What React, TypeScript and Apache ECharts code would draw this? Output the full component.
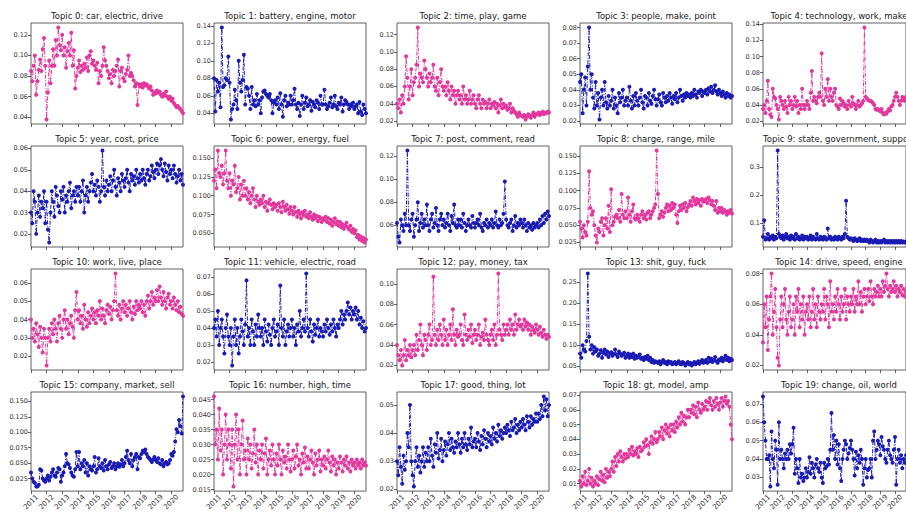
import React, { useEffect, useRef } from "react";
import * as echarts from "echarts";

const topics = [
  "Topic 0: car, electric, drive",
  "Topic 1: battery, engine, motor",
  "Topic 2: time, play, game",
  "Topic 3: people, make, point",
  "Topic 4: technology, work, make",
  "Topic 5: year, cost, price",
  "Topic 6: power, energy, fuel",
  "Topic 7: post, comment, read",
  "Topic 8: charge, range, mile",
  "Topic 9: state, government, support",
  "Topic 10: work, live, place",
  "Topic 11: vehicle, electric, road",
  "Topic 12: pay, money, tax",
  "Topic 13: shit, guy, fuck",
  "Topic 14: drive, speed, engine",
  "Topic 15: company, market, sell",
  "Topic 16: number, high, time",
  "Topic 17: good, thing, lot",
  "Topic 18: gt, model, amp",
  "Topic 19: change, oil, world",
];

const years = ["2011", "2012", "2013", "2014", "2015", "2016", "2017", "2018", "2019", "2020"];
const monthsInLastYear = 10;

const t0 = [
  0.085, 0.075, 0.09, 0.1, 0.062, 0.075, 0.086, 0.096, 0.085, 0.106, 0.117, 0.09,
  0.038, 0.064, 0.095, 0.073, 0.09, 0.106, 0.09, 0.115, 0.1, 0.127, 0.11, 0.105,
  0.12, 0.1, 0.108, 0.088, 0.104, 0.112, 0.1, 0.122, 0.09, 0.105, 0.068, 0.08,
  0.088, 0.095, 0.084, 0.09, 0.086, 0.092, 0.088, 0.098, 0.085, 0.1, 0.104, 0.092,
  0.095, 0.09, 0.086, 0.093, 0.073, 0.085, 0.08, 0.09, 0.108, 0.095, 0.09, 0.085,
  0.078, 0.082, 0.073, 0.086, 0.08, 0.085, 0.09, 0.096, 0.07, 0.085, 0.088, 0.078,
  0.075, 0.082, 0.086, 0.1, 0.08, 0.083, 0.08, 0.076, 0.07, 0.073, 0.052, 0.072,
  0.07, 0.072, 0.069, 0.073, 0.071, 0.072, 0.07, 0.068, 0.07, 0.066, 0.062, 0.064,
  0.063, 0.066, 0.064, 0.065, 0.062, 0.06, 0.063, 0.061, 0.065, 0.06, 0.058, 0.06,
  0.056, 0.058, 0.054, 0.052, 0.05, 0.051, 0.049, 0.048, 0.046, 0.044,
];
const t1 = [
  0.08, 0.042, 0.078, 0.065, 0.075, 0.047, 0.138, 0.07, 0.072, 0.08, 0.078, 0.105,
  0.075, 0.033, 0.045, 0.05, 0.067, 0.055, 0.045, 0.1, 0.075, 0.065, 0.078, 0.107,
  0.05, 0.07, 0.068, 0.06, 0.045, 0.07, 0.05, 0.055, 0.048, 0.062, 0.05, 0.055,
  0.04, 0.058, 0.065, 0.066, 0.062, 0.06, 0.058, 0.062, 0.055, 0.04, 0.052, 0.055,
  0.05, 0.058, 0.045, 0.063, 0.05, 0.036, 0.055, 0.06, 0.048, 0.052, 0.05, 0.06,
  0.05, 0.055, 0.068, 0.05, 0.045, 0.052, 0.037, 0.05, 0.06, 0.045, 0.052, 0.058,
  0.048, 0.05, 0.055, 0.043, 0.053, 0.05, 0.047, 0.055, 0.052, 0.045, 0.06, 0.05,
  0.05, 0.067, 0.05, 0.045, 0.048, 0.052, 0.058, 0.047, 0.05, 0.06, 0.048, 0.045,
  0.052, 0.05, 0.058, 0.042, 0.05, 0.055, 0.053, 0.05, 0.045, 0.05, 0.048, 0.052,
  0.045, 0.048, 0.05, 0.04, 0.053, 0.042, 0.038, 0.05, 0.045, 0.04,
];
const t2 = [
  0.04, 0.035, 0.045, 0.03, 0.05, 0.04, 0.06, 0.095, 0.07, 0.045, 0.06, 0.08,
  0.05, 0.065, 0.07, 0.085, 0.128, 0.06, 0.075, 0.07, 0.065, 0.09, 0.08, 0.07,
  0.06, 0.075, 0.065, 0.07, 0.085, 0.06, 0.055, 0.07, 0.05, 0.065, 0.08, 0.06,
  0.055, 0.06, 0.05, 0.065, 0.055, 0.045, 0.06, 0.05, 0.055, 0.04, 0.05, 0.055,
  0.045, 0.05, 0.04, 0.06, 0.045, 0.05, 0.04, 0.045, 0.055, 0.04, 0.045, 0.05,
  0.04, 0.035, 0.045, 0.05, 0.04, 0.035, 0.045, 0.04, 0.042, 0.035, 0.04, 0.045,
  0.035, 0.04, 0.038, 0.042, 0.035, 0.04, 0.03, 0.038, 0.045, 0.035, 0.04, 0.036,
  0.038, 0.033, 0.035, 0.04, 0.03, 0.035, 0.032, 0.03, 0.028, 0.025, 0.03, 0.027,
  0.026, 0.025, 0.027, 0.022, 0.025, 0.028, 0.026, 0.024, 0.027, 0.03, 0.025, 0.028,
  0.028, 0.03, 0.027, 0.029, 0.031, 0.028, 0.03, 0.029, 0.031, 0.03,
];
const t3 = [
  0.045, 0.05, 0.025, 0.04, 0.048, 0.03, 0.055, 0.08, 0.04, 0.05, 0.035, 0.028,
  0.045, 0.03, 0.038, 0.021, 0.035, 0.04, 0.03, 0.045, 0.032, 0.028, 0.036, 0.03,
  0.033, 0.04, 0.028, 0.035, 0.03, 0.025, 0.038, 0.032, 0.035, 0.04, 0.03, 0.033,
  0.035, 0.03, 0.042, 0.033, 0.028, 0.036, 0.03, 0.038, 0.033, 0.03, 0.035, 0.04,
  0.032, 0.028, 0.036, 0.035, 0.03, 0.038, 0.033, 0.031, 0.036, 0.04, 0.034, 0.03,
  0.034, 0.037, 0.032, 0.03, 0.038, 0.035, 0.032, 0.036, 0.033, 0.038, 0.035, 0.031,
  0.036, 0.034, 0.038, 0.032, 0.035, 0.04, 0.036, 0.033, 0.037, 0.035, 0.038, 0.036,
  0.037, 0.035, 0.038, 0.036, 0.04, 0.037, 0.035, 0.039, 0.038, 0.04, 0.036, 0.039,
  0.038, 0.04, 0.037, 0.041, 0.039, 0.042, 0.038, 0.04, 0.043, 0.039, 0.037, 0.04,
  0.038, 0.036, 0.039, 0.037, 0.035, 0.038, 0.036, 0.037, 0.035, 0.036,
];
const t4 = [
  0.035, 0.04, 0.03, 0.045, 0.07, 0.035, 0.028, 0.025, 0.06, 0.05, 0.048, 0.04,
  0.035, 0.022, 0.05, 0.045, 0.04, 0.035, 0.045, 0.038, 0.03, 0.05, 0.04, 0.045,
  0.035, 0.04, 0.05, 0.038, 0.045, 0.03, 0.04, 0.035, 0.06, 0.04, 0.035, 0.04,
  0.045, 0.04, 0.035, 0.055, 0.082, 0.045, 0.05, 0.045, 0.042, 0.05, 0.055, 0.05,
  0.104, 0.045, 0.04, 0.06, 0.05, 0.072, 0.045, 0.06, 0.05, 0.045, 0.055, 0.06,
  0.04, 0.038, 0.035, 0.048, 0.04, 0.045, 0.042, 0.038, 0.04, 0.035, 0.045, 0.04,
  0.038, 0.05, 0.042, 0.04, 0.035, 0.04, 0.045, 0.038, 0.04, 0.042, 0.045, 0.136,
  0.05, 0.048, 0.046, 0.045, 0.045, 0.044, 0.042, 0.04, 0.035, 0.034, 0.035, 0.033,
  0.032, 0.035, 0.03, 0.028, 0.03, 0.029, 0.032, 0.035, 0.033, 0.038, 0.04, 0.045,
  0.05, 0.055, 0.05, 0.045, 0.04, 0.045, 0.05, 0.048, 0.045, 0.05,
];
const t5 = [
  0.03, 0.025, 0.04, 0.035, 0.02, 0.03, 0.038, 0.028, 0.035, 0.032, 0.04, 0.025,
  0.035, 0.022, 0.016, 0.03, 0.04, 0.035, 0.028, 0.042, 0.038, 0.033, 0.03, 0.04,
  0.036, 0.042, 0.03, 0.038, 0.035, 0.04, 0.044, 0.032, 0.038, 0.04, 0.035, 0.042,
  0.038, 0.042, 0.035, 0.04, 0.045, 0.03, 0.038, 0.042, 0.035, 0.04, 0.044, 0.048,
  0.04, 0.043, 0.038, 0.045, 0.042, 0.035, 0.04, 0.059, 0.042, 0.038, 0.045, 0.04,
  0.043, 0.047, 0.04, 0.045, 0.05, 0.042, 0.038, 0.046, 0.044, 0.04, 0.048, 0.045,
  0.042, 0.046, 0.05, 0.044, 0.04, 0.048, 0.045, 0.047, 0.043, 0.05, 0.046, 0.044,
  0.048, 0.045, 0.05, 0.046, 0.043, 0.048, 0.05, 0.045, 0.047, 0.052, 0.049, 0.046,
  0.05, 0.053, 0.048, 0.052, 0.055, 0.05, 0.047, 0.053, 0.049, 0.045, 0.052, 0.048,
  0.05, 0.046, 0.052, 0.048, 0.044, 0.047, 0.05, 0.045, 0.048, 0.043,
];
const t6 = [
  0.12, 0.135, 0.11, 0.16, 0.13, 0.125, 0.14, 0.115, 0.13, 0.16, 0.12, 0.11,
  0.13, 0.1, 0.12, 0.115, 0.14, 0.105, 0.11, 0.125, 0.095, 0.115, 0.1, 0.12,
  0.1, 0.11, 0.095, 0.105, 0.09, 0.1, 0.11, 0.095, 0.085, 0.1, 0.092, 0.088,
  0.095, 0.09, 0.1, 0.085, 0.092, 0.08, 0.09, 0.095, 0.088, 0.082, 0.09, 0.085,
  0.088, 0.08, 0.09, 0.085, 0.078, 0.092, 0.085, 0.08, 0.088, 0.082, 0.076, 0.085,
  0.08, 0.075, 0.085, 0.078, 0.072, 0.08, 0.076, 0.07, 0.078, 0.074, 0.08, 0.072,
  0.075, 0.07, 0.078, 0.072, 0.068, 0.075, 0.07, 0.073, 0.066, 0.072, 0.07, 0.065,
  0.07, 0.068, 0.072, 0.065, 0.07, 0.063, 0.068, 0.06, 0.065, 0.07, 0.062, 0.066,
  0.06, 0.065, 0.058, 0.062, 0.056, 0.06, 0.064, 0.058, 0.055, 0.06, 0.052, 0.056,
  0.05, 0.054, 0.045, 0.048, 0.042, 0.046, 0.04, 0.044, 0.038, 0.042,
];
const t7 = [
  0.062, 0.05, 0.045, 0.065, 0.06, 0.055, 0.07, 0.06, 0.125, 0.06, 0.055, 0.065,
  0.07, 0.05, 0.06, 0.065, 0.08, 0.055, 0.062, 0.07, 0.058, 0.065, 0.06, 0.078,
  0.06, 0.055, 0.065, 0.07, 0.058, 0.062, 0.075, 0.06, 0.055, 0.065, 0.07, 0.06,
  0.065, 0.058, 0.062, 0.07, 0.06, 0.055, 0.068, 0.062, 0.078, 0.06, 0.058, 0.065,
  0.06, 0.065, 0.058, 0.07, 0.062, 0.055, 0.06, 0.065, 0.06, 0.058, 0.068, 0.062,
  0.058, 0.062, 0.065, 0.06, 0.07, 0.058, 0.055, 0.062, 0.06, 0.065, 0.058, 0.062,
  0.06, 0.065, 0.058, 0.062, 0.072, 0.06, 0.058, 0.065, 0.06, 0.062, 0.07, 0.098,
  0.065, 0.06, 0.058, 0.062, 0.065, 0.055, 0.06, 0.068, 0.058, 0.062, 0.06, 0.065,
  0.062, 0.058, 0.065, 0.06, 0.055, 0.062, 0.058, 0.06, 0.056, 0.062, 0.058, 0.06,
  0.062, 0.058, 0.065, 0.06, 0.068, 0.062, 0.07, 0.065, 0.072, 0.068,
];
const t8 = [
  0.055, 0.045, 0.032, 0.05, 0.04, 0.035, 0.055, 0.128, 0.075, 0.065, 0.07, 0.05,
  0.035, 0.025, 0.045, 0.04, 0.055, 0.06, 0.035, 0.05, 0.06, 0.045, 0.078, 0.04,
  0.102, 0.05, 0.055, 0.062, 0.065, 0.06, 0.072, 0.055, 0.095, 0.065, 0.06, 0.07,
  0.06, 0.09, 0.065, 0.055, 0.07, 0.08, 0.06, 0.058, 0.065, 0.06, 0.055, 0.065,
  0.07, 0.06, 0.065, 0.058, 0.068, 0.07, 0.06, 0.065, 0.07, 0.075, 0.08, 0.158,
  0.095, 0.06, 0.065, 0.07, 0.062, 0.068, 0.075, 0.08, 0.07, 0.078, 0.072, 0.082,
  0.075, 0.08, 0.065, 0.053, 0.07, 0.078, 0.072, 0.08, 0.075, 0.082, 0.07, 0.076,
  0.08, 0.085, 0.078, 0.09, 0.085, 0.08, 0.088, 0.082, 0.086, 0.078, 0.088, 0.084,
  0.085, 0.088, 0.082, 0.09, 0.086, 0.08, 0.085, 0.078, 0.072, 0.085, 0.068, 0.075,
  0.07, 0.075, 0.068, 0.072, 0.07, 0.065, 0.07, 0.068, 0.072, 0.067,
];
const t9 = [
  0.05, 0.11, 0.04, 0.045, 0.06, 0.04, 0.05, 0.045, 0.055, 0.04, 0.05, 0.045,
  0.36, 0.06, 0.05, 0.045, 0.055, 0.04, 0.05, 0.06, 0.045, 0.05, 0.04, 0.055,
  0.045, 0.05, 0.04, 0.06, 0.045, 0.05, 0.04, 0.045, 0.055, 0.04, 0.05, 0.045,
  0.05, 0.04, 0.045, 0.055, 0.04, 0.05, 0.045, 0.04, 0.06, 0.045, 0.04, 0.05,
  0.045, 0.04, 0.05, 0.045, 0.04, 0.08, 0.045, 0.05, 0.04, 0.045, 0.04, 0.05,
  0.045, 0.04, 0.05, 0.045, 0.04, 0.05, 0.045, 0.06, 0.18, 0.05, 0.045, 0.04,
  0.045, 0.04, 0.035, 0.045, 0.04, 0.035, 0.04, 0.045, 0.035, 0.04, 0.035, 0.04,
  0.035, 0.04, 0.035, 0.03, 0.04, 0.035, 0.03, 0.035, 0.04, 0.03, 0.035, 0.03,
  0.035, 0.03, 0.035, 0.04, 0.03, 0.035, 0.03, 0.035, 0.03, 0.035, 0.03, 0.035,
  0.03, 0.035, 0.03, 0.035, 0.03, 0.035, 0.03, 0.033, 0.03, 0.032,
];
const t10 = [
  0.04, 0.03, 0.035, 0.028, 0.038, 0.032, 0.025, 0.036, 0.03, 0.022, 0.035, 0.03,
  0.015, 0.03, 0.035, 0.028, 0.038, 0.032, 0.04, 0.035, 0.028, 0.038, 0.042, 0.035,
  0.03, 0.04, 0.045, 0.035, 0.04, 0.032, 0.038, 0.042, 0.036, 0.03, 0.045, 0.055,
  0.04, 0.045, 0.038, 0.042, 0.035, 0.048, 0.04, 0.036, 0.044, 0.038, 0.042, 0.046,
  0.04, 0.044, 0.038, 0.045, 0.042, 0.05, 0.04, 0.046, 0.042, 0.038, 0.045, 0.048,
  0.043, 0.047, 0.04, 0.045, 0.05, 0.065, 0.045, 0.042, 0.048, 0.04, 0.046, 0.05,
  0.044, 0.048, 0.042, 0.046, 0.05, 0.044, 0.04, 0.047, 0.043, 0.05, 0.045, 0.048,
  0.046, 0.05, 0.044, 0.048, 0.042, 0.05, 0.053, 0.046, 0.05, 0.055, 0.048, 0.052,
  0.05, 0.056, 0.05, 0.058, 0.052, 0.048, 0.055, 0.05, 0.046, 0.052, 0.054, 0.048,
  0.05, 0.046, 0.052, 0.048, 0.045, 0.05, 0.044, 0.047, 0.043, 0.042,
];
const t11 = [
  0.04, 0.045, 0.035, 0.05, 0.03, 0.04, 0.045, 0.035, 0.025, 0.04, 0.048, 0.035,
  0.03, 0.04, 0.018, 0.035, 0.045, 0.03, 0.04, 0.025, 0.035, 0.045, 0.038, 0.03,
  0.042, 0.068, 0.035, 0.04, 0.03, 0.045, 0.038, 0.03, 0.042, 0.035, 0.048, 0.04,
  0.035, 0.04, 0.03, 0.045, 0.038, 0.032, 0.042, 0.036, 0.03, 0.04, 0.045, 0.035,
  0.038, 0.042, 0.03, 0.065, 0.04, 0.035, 0.045, 0.03, 0.038, 0.042, 0.035, 0.04,
  0.045, 0.035, 0.04, 0.03, 0.042, 0.038, 0.05, 0.035, 0.04, 0.045, 0.038, 0.072,
  0.04, 0.035, 0.045, 0.038, 0.032, 0.042, 0.036, 0.04, 0.045, 0.035, 0.04, 0.038,
  0.035, 0.042, 0.038, 0.045, 0.04, 0.036, 0.042, 0.038, 0.045, 0.04, 0.035, 0.042,
  0.04, 0.045, 0.05, 0.042, 0.048, 0.045, 0.05, 0.055, 0.048, 0.052, 0.045, 0.05,
  0.048, 0.052, 0.045, 0.05, 0.042, 0.046, 0.04, 0.044, 0.038, 0.04,
];
const t12 = [
  0.04, 0.03, 0.025, 0.035, 0.02, 0.03, 0.045, 0.025, 0.035, 0.03, 0.04, 0.028,
  0.035, 0.04, 0.03, 0.05, 0.035, 0.045, 0.06, 0.04, 0.03, 0.05, 0.045, 0.035,
  0.05, 0.06, 0.04, 0.045, 0.107, 0.05, 0.04, 0.055, 0.045, 0.06, 0.05, 0.04,
  0.065, 0.045, 0.055, 0.04, 0.05, 0.06, 0.045, 0.075, 0.05, 0.04, 0.055, 0.048,
  0.05, 0.06, 0.045, 0.04, 0.07, 0.05, 0.045, 0.055, 0.048, 0.06, 0.042, 0.05,
  0.055, 0.045, 0.05, 0.06, 0.04, 0.048, 0.052, 0.045, 0.065, 0.05, 0.045, 0.04,
  0.05, 0.055, 0.045, 0.06, 0.04, 0.05, 0.11, 0.055, 0.05, 0.045, 0.06, 0.05,
  0.055, 0.06, 0.05, 0.065, 0.055, 0.06, 0.05, 0.07, 0.055, 0.06, 0.065, 0.058,
  0.06, 0.055, 0.065, 0.058, 0.062, 0.055, 0.06, 0.05, 0.058, 0.055, 0.052, 0.06,
  0.055, 0.05, 0.058, 0.052, 0.048, 0.055, 0.05, 0.046, 0.05, 0.048,
];
const t13 = [
  0.08, 0.07, 0.1, 0.09, 0.085, 0.11, 0.27, 0.12, 0.09, 0.1, 0.08, 0.095,
  0.085, 0.09, 0.075, 0.08, 0.088, 0.07, 0.082, 0.09, 0.078, 0.085, 0.072, 0.08,
  0.083, 0.075, 0.08, 0.09, 0.078, 0.072, 0.085, 0.08, 0.075, 0.078, 0.082, 0.07,
  0.075, 0.08, 0.07, 0.078, 0.072, 0.08, 0.068, 0.075, 0.07, 0.073, 0.078, 0.068,
  0.07, 0.065, 0.072, 0.068, 0.075, 0.065, 0.07, 0.06, 0.065, 0.058, 0.062, 0.06,
  0.058, 0.062, 0.055, 0.06, 0.065, 0.058, 0.06, 0.055, 0.062, 0.058, 0.06, 0.055,
  0.057, 0.06, 0.055, 0.058, 0.062, 0.056, 0.055, 0.06, 0.058, 0.052, 0.056, 0.06,
  0.055, 0.058, 0.052, 0.056, 0.06, 0.055, 0.058, 0.062, 0.056, 0.06, 0.065, 0.058,
  0.06, 0.065, 0.058, 0.07, 0.062, 0.068, 0.06, 0.065, 0.072, 0.062, 0.058, 0.066,
  0.064, 0.07, 0.062, 0.068, 0.075, 0.065, 0.07, 0.062, 0.068, 0.065,
];
const t14 = [
  0.035, 0.06, 0.045, 0.065, 0.03, 0.05, 0.065, 0.08, 0.04, 0.055, 0.07, 0.045,
  0.025, 0.02, 0.05, 0.065, 0.045, 0.06, 0.07, 0.05, 0.04, 0.055, 0.065, 0.045,
  0.05, 0.06, 0.04, 0.065, 0.055, 0.07, 0.045, 0.06, 0.05, 0.065, 0.04, 0.055,
  0.06, 0.05, 0.065, 0.045, 0.055, 0.07, 0.05, 0.06, 0.045, 0.065, 0.055, 0.05,
  0.06, 0.055, 0.07, 0.05, 0.065, 0.06, 0.045, 0.075, 0.055, 0.06, 0.05, 0.065,
  0.055, 0.07, 0.06, 0.05, 0.065, 0.055, 0.06, 0.07, 0.05, 0.065, 0.06, 0.055,
  0.065, 0.06, 0.07, 0.055, 0.065, 0.06, 0.075, 0.06, 0.068, 0.055, 0.065, 0.07,
  0.06, 0.065, 0.07, 0.062, 0.075, 0.065, 0.06, 0.07, 0.065, 0.068, 0.072, 0.065,
  0.07, 0.065, 0.075, 0.068, 0.072, 0.08, 0.07, 0.065, 0.072, 0.068, 0.07, 0.075,
  0.068, 0.072, 0.065, 0.07, 0.068, 0.072, 0.066, 0.07, 0.065, 0.068,
];
const t15 = [
  0.035, 0.025, 0.02, 0.018, 0.012, 0.012, 0.015, 0.04, 0.038, 0.025, 0.022, 0.02,
  0.025, 0.03, 0.022, 0.028, 0.035, 0.04, 0.03, 0.028, 0.035, 0.042, 0.04, 0.02,
  0.03, 0.035, 0.045, 0.065, 0.05, 0.048, 0.042, 0.035, 0.03, 0.028, 0.04, 0.068,
  0.045, 0.068, 0.04, 0.05, 0.045, 0.055, 0.035, 0.05, 0.03, 0.045, 0.04, 0.038,
  0.045, 0.06, 0.035, 0.04, 0.058, 0.045, 0.042, 0.05, 0.038, 0.055, 0.045, 0.04,
  0.048, 0.052, 0.042, 0.045, 0.05, 0.04, 0.045, 0.05, 0.044, 0.048, 0.055, 0.045,
  0.05, 0.06, 0.07, 0.055, 0.05, 0.065, 0.045, 0.055, 0.06, 0.065, 0.04, 0.06,
  0.058, 0.065, 0.07, 0.068, 0.072, 0.065, 0.06, 0.058, 0.055, 0.052, 0.056, 0.06,
  0.055, 0.052, 0.058, 0.05, 0.048, 0.055, 0.045, 0.05, 0.052, 0.048, 0.05, 0.055,
  0.065, 0.062, 0.068, 0.085, 0.105, 0.1, 0.12, 0.11, 0.098, 0.158,
];
const t16 = [
  0.046, 0.03, 0.035, 0.025, 0.042, 0.028, 0.035, 0.02, 0.03, 0.04, 0.025, 0.035,
  0.03, 0.022, 0.035, 0.016, 0.03, 0.04, 0.025, 0.035, 0.02, 0.03, 0.038, 0.025,
  0.028, 0.02, 0.032, 0.025, 0.03, 0.022, 0.027, 0.035, 0.024, 0.03, 0.02, 0.028,
  0.025, 0.03, 0.022, 0.027, 0.032, 0.02, 0.025, 0.028, 0.023, 0.03, 0.025, 0.02,
  0.027, 0.023, 0.03, 0.025, 0.02, 0.028, 0.024, 0.026, 0.022, 0.03, 0.025, 0.021,
  0.025, 0.028, 0.022, 0.026, 0.03, 0.023, 0.025, 0.02, 0.027, 0.024, 0.029, 0.022,
  0.026, 0.022, 0.025, 0.028, 0.024, 0.02, 0.027, 0.023, 0.025, 0.028, 0.021, 0.025,
  0.023, 0.026, 0.022, 0.025, 0.028, 0.024, 0.021, 0.026, 0.023, 0.025, 0.02, 0.024,
  0.022, 0.026, 0.024, 0.021, 0.025, 0.023, 0.026, 0.022, 0.024, 0.021, 0.025, 0.023,
  0.024, 0.022, 0.025, 0.023, 0.024, 0.022, 0.025, 0.023, 0.024, 0.023,
];
const t17 = [
  0.03, 0.025, 0.035, 0.028, 0.022, 0.032, 0.027, 0.03, 0.04, 0.035, 0.05, 0.03,
  0.025, 0.021, 0.03, 0.035, 0.028, 0.032, 0.026, 0.03, 0.035, 0.028, 0.033, 0.03,
  0.035, 0.03, 0.038, 0.032, 0.028, 0.036, 0.033, 0.04, 0.031, 0.034, 0.038, 0.03,
  0.034, 0.037, 0.032, 0.036, 0.04, 0.034, 0.038, 0.035, 0.033, 0.037, 0.035, 0.04,
  0.036, 0.033, 0.038, 0.035, 0.04, 0.036, 0.034, 0.038, 0.036, 0.042, 0.035, 0.037,
  0.038, 0.035, 0.04, 0.037, 0.034, 0.039, 0.036, 0.041, 0.038, 0.035, 0.04, 0.037,
  0.039, 0.036, 0.042, 0.038, 0.04, 0.037, 0.043, 0.039, 0.041, 0.038, 0.04, 0.042,
  0.04, 0.043, 0.041, 0.039, 0.044, 0.041, 0.042, 0.045, 0.04, 0.043, 0.041, 0.044,
  0.042, 0.045, 0.043, 0.041, 0.046, 0.044, 0.042, 0.046, 0.043, 0.045, 0.044, 0.047,
  0.044, 0.047, 0.045, 0.05, 0.046, 0.053, 0.048, 0.052, 0.046, 0.05,
];
const t18 = [
  0.012, 0.008, 0.015, 0.01, 0.018, 0.009, 0.012, 0.02, 0.01, 0.014, 0.008, 0.012,
  0.01, 0.015, 0.009, 0.013, 0.018, 0.012, 0.016, 0.011, 0.02, 0.014, 0.018, 0.015,
  0.02, 0.025, 0.018, 0.028, 0.022, 0.03, 0.025, 0.032, 0.028, 0.025, 0.03, 0.027,
  0.03, 0.028, 0.033, 0.03, 0.035, 0.029, 0.032, 0.03, 0.034, 0.028, 0.035, 0.032,
  0.033, 0.038, 0.035, 0.04, 0.036, 0.03, 0.038, 0.042, 0.037, 0.04, 0.045, 0.038,
  0.04, 0.045, 0.042, 0.048, 0.04, 0.046, 0.05, 0.044, 0.048, 0.042, 0.05, 0.046,
  0.05, 0.045, 0.052, 0.048, 0.055, 0.05, 0.058, 0.052, 0.056, 0.05, 0.055, 0.06,
  0.055, 0.06, 0.058, 0.063, 0.057, 0.062, 0.055, 0.065, 0.06, 0.058, 0.064, 0.06,
  0.062, 0.066, 0.06, 0.065, 0.068, 0.063, 0.06, 0.066, 0.062, 0.068, 0.064, 0.06,
  0.065, 0.068, 0.062, 0.066, 0.069, 0.064, 0.066, 0.062, 0.05, 0.04,
];
const t19 = [
  0.074, 0.06, 0.05, 0.04, 0.04, 0.042, 0.025, 0.055, 0.04, 0.035, 0.05, 0.045,
  0.026, 0.06, 0.04, 0.045, 0.04, 0.035, 0.043, 0.04, 0.045, 0.04, 0.048, 0.043,
  0.048, 0.057, 0.032, 0.04, 0.035, 0.027, 0.04, 0.03, 0.032, 0.028, 0.03, 0.035,
  0.03, 0.033, 0.041, 0.032, 0.038, 0.035, 0.03, 0.037, 0.04, 0.035, 0.033, 0.038,
  0.03, 0.027, 0.038, 0.035, 0.036, 0.04, 0.037, 0.045, 0.065, 0.045, 0.053, 0.04,
  0.05, 0.037, 0.048, 0.035, 0.028, 0.04, 0.045, 0.05, 0.048, 0.04, 0.043, 0.046,
  0.05, 0.045, 0.04, 0.031, 0.044, 0.035, 0.042, 0.038, 0.045, 0.04, 0.026, 0.035,
  0.04, 0.03, 0.034, 0.035, 0.04, 0.03, 0.05, 0.055, 0.04, 0.045, 0.05, 0.048,
  0.042, 0.052, 0.047, 0.045, 0.04, 0.038, 0.045, 0.05, 0.042, 0.04, 0.038, 0.045,
  0.052, 0.026, 0.04, 0.045, 0.038, 0.042, 0.035, 0.04, 0.038, 0.042,
];

const seriesValues = [t0, t1, t2, t3, t4, t5, t6, t7, t8, t9, t10, t11, t12, t13, t14, t15, t16, t17, t18, t19];
const tickSteps = [0.02, 0.02, 0.02, 0.01, 0.02, 0.01, 0.025, 0.02, 0.025, 0.1, 0.01, 0.01, 0.02, 0.05, 0.02, 0.025, 0.005, 0.01, 0.01, 0.01];
const tickDecimals = [2, 2, 2, 2, 2, 2, 3, 2, 3, 1, 2, 2, 2, 2, 2, 3, 3, 2, 2, 2];

const PINK = "#e2379c";
const BLUE = "#1a1ab4";
const FONT = "DejaVu Sans";

const COLS = 5;
const LEFT0 = 31;
const COL_STEP = 183;
const PLOT_W = 152;
const TOP0 = 23;
const ROW_STEP = 123;
const PLOT_H = 101;

function buildOption() {
  const months: string[] = [];
  years.forEach((y, yi) => {
    const n = yi === years.length - 1 ? monthsInLastYear : 12;
    for (let m = 1; m <= n; m++) months.push(`${y}-${String(m).padStart(2, "0")}`);
  });

  const grids: any[] = [];
  const xAxes: any[] = [];
  const yAxes: any[] = [];
  const series: any[] = [];
  const graphics: any[] = [];

  seriesValues.forEach((vals, i) => {
    const col = i % COLS;
    const row = Math.floor(i / COLS);
    const left = LEFT0 + col * COL_STEP;
    const top = TOP0 + row * ROW_STEP;
    const color = i % 2 === 0 ? PINK : BLUE;
    const lo = Math.min(...vals);
    const hi = Math.max(...vals);
    const pad = (hi - lo) * 0.05;
    const yMin = lo - pad;
    const yMax = hi + pad;
    const step = tickSteps[i];
    const ticks: number[] = [];
    for (let k = Math.ceil(yMin / step - 1e-9); k * step <= yMax + 1e-12; k++) {
      ticks.push(+(k * step).toFixed(6));
    }
    const isBottom = row === 3;

    grids.push({
      left,
      top,
      width: PLOT_W,
      height: PLOT_H,
      show: true,
      borderColor: "#3a3a3a",
      borderWidth: 0.8,
      backgroundColor: "transparent",
    });
    xAxes.push({
      type: "category",
      gridIndex: i,
      data: months,
      boundaryGap: false,
      axisLine: { show: false },
      axisTick: {
        show: true,
        interval: (idx: number) => idx % 12 === 0,
        length: 3,
        lineStyle: { color: "#3a3a3a", width: 0.8 },
      },
      axisLabel: {
        show: isBottom,
        interval: (idx: number) => idx % 12 === 0,
        formatter: (v: string) => v.slice(0, 4),
        rotate: 45,
        align: "center",
        verticalAlign: "middle",
        margin: 11,
        fontSize: 7,
        fontFamily: FONT,
        color: "#333",
      },
      splitLine: { show: false },
    });
    yAxes.push({
      type: "value",
      gridIndex: i,
      min: yMin,
      max: yMax,
      axisLine: { show: false },
      axisTick: {
        show: true,
        length: 3,
        customValues: ticks,
        lineStyle: { color: "#3a3a3a", width: 0.8 },
      },
      axisLabel: {
        show: true,
        customValues: ticks,
        formatter: (v: number) => v.toFixed(tickDecimals[i]),
        fontSize: 6.5,
        fontFamily: FONT,
        color: "#333",
        margin: 3,
      },
      splitLine: { show: false },
    });
    series.push({
      type: "line",
      xAxisIndex: i,
      yAxisIndex: i,
      data: vals,
      symbol: "circle",
      symbolSize: 4,
      showSymbol: true,
      showAllSymbol: true,
      lineStyle: { width: 1, color, type: [4, 1.5, 1, 1.5] },
      itemStyle: { color },
      emphasis: { disabled: true },
      silent: true,
    });
    graphics.push({
      type: "text",
      x: left + PLOT_W / 2,
      y: top - 7,
      style: {
        text: topics[i],
        fontSize: 8.5,
        fontFamily: FONT,
        fill: "#222",
        align: "center",
        verticalAlign: "middle",
        textAlign: "center",
        textVerticalAlign: "middle",
      },
    });
  });

  return {
    animation: false,
    backgroundColor: "#ffffff",
    grid: grids,
    xAxis: xAxes,
    yAxis: yAxes,
    series,
    graphic: graphics,
  };
}

export default function App() {
  const ref = useRef<HTMLDivElement>(null);
  useEffect(() => {
    if (!ref.current) return;
    const chart = echarts.init(ref.current, null, { renderer: "svg" });
    chart.setOption(buildOption());
    return () => chart.dispose();
  }, []);
  return (
    <div
      ref={ref}
      style={{ position: "absolute", left: 0, top: 0, width: 906, height: 513, background: "#fff" }}
    />
  );
}
